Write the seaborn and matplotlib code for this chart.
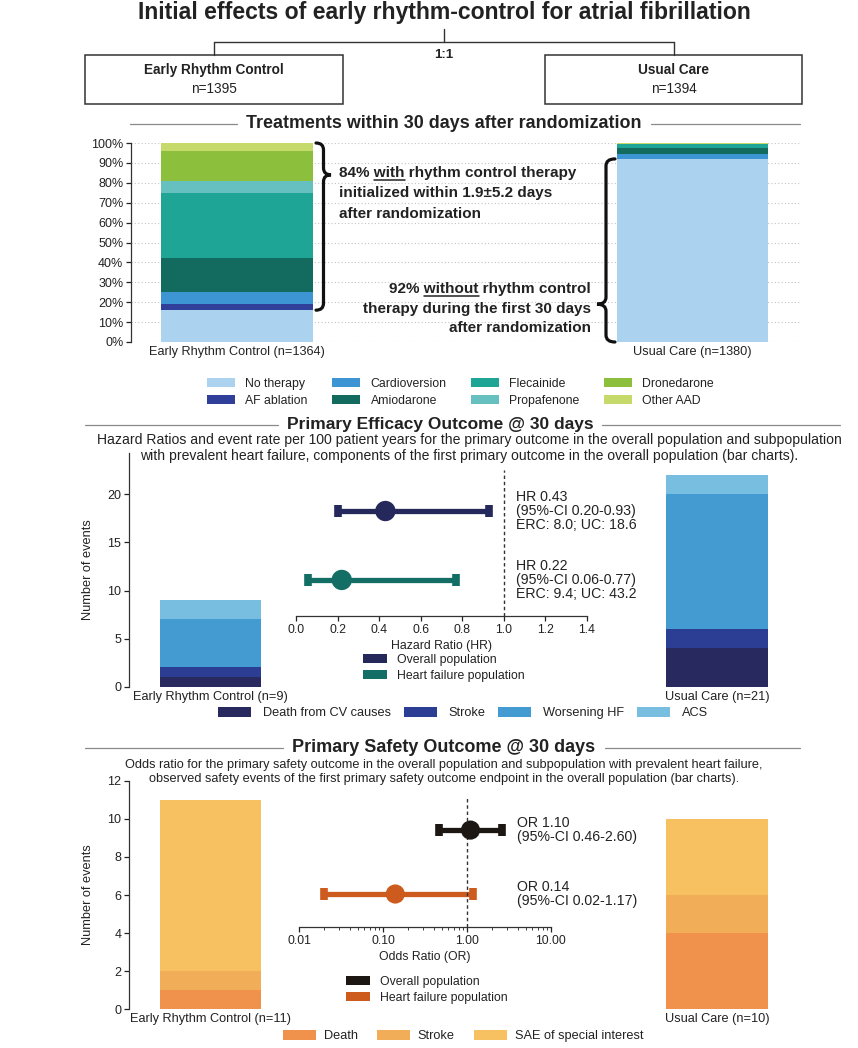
import numpy as np
import pandas as pd
import matplotlib
matplotlib.use("Agg")
import matplotlib.pyplot as plt
import matplotlib.transforms as mtransforms
from matplotlib.path import Path
from matplotlib.patches import PathPatch, Rectangle, Patch
from matplotlib.lines import Line2D
import seaborn as sns

sns.set_style("white")
plt.rcParams['font.family'] = ['Liberation Sans', 'DejaVu Sans']
plt.rcParams['text.color'] = '#222222'
plt.rcParams['axes.labelcolor'] = '#222222'
plt.rcParams['xtick.color'] = '#222222'
plt.rcParams['ytick.color'] = '#222222'
plt.rcParams['axes.edgecolor'] = '#333333'
NARROW = ['Liberation Sans Narrow', 'Liberation Sans', 'DejaVu Sans']

# ---- data
arms = ["Early Rhythm Control", "Usual Care"]
arms_n = [1395, 1394]

treat_n = [1364, 1380]
treat_cats = ["No therapy", "AF ablation", "Cardioversion", "Amiodarone",
              "Flecainide", "Propafenone", "Dronedarone", "Other AAD"]
treat_erc = [16, 3, 6, 17, 33, 6, 15, 4]
treat_uc = [92, 0, 2.6, 2.8, 2.2, 0, 0, 0.4]
treat_colors = ["#abd3ef", "#2f3f9a", "#3d95d3", "#136b5f",
                "#1fa596", "#66c0c0", "#8bbf3c", "#c6d96b"]

eff_n = [9, 21]
eff_cats = ["Death from CV causes", "Stroke", "Worsening HF", "ACS"]
eff_erc = [1, 1, 5, 2]
eff_uc = [4, 2, 14, 2]
eff_colors = ["#27295f", "#2c3e93", "#439bd2", "#77bee0"]

pops = ["Overall population", "Heart failure population"]
hr_est = [0.43, 0.22]
hr_lo = [0.20, 0.06]
hr_hi = [0.93, 0.77]
rate_erc = [8.0, 9.4]
rate_uc = [18.6, 43.2]
hr_colors = ["#24285a", "#136e65"]

saf_n = [11, 10]
saf_cats = ["Death", "Stroke", "SAE of special interest"]
saf_erc = [1, 1, 9]
saf_uc = [4, 2, 4]
saf_colors = ["#f0914c", "#f2ad58", "#f7c162"]

or_est = [1.10, 0.14]
or_lo = [0.46, 0.02]
or_hi = [2.60, 1.17]
or_colors = ["#1c1712", "#cc5b1d"]

# ---- figure + pixel helpers
W, H = 858, 1048
fig = plt.figure(figsize=(W / 100, H / 100), dpi=100)
renderer = fig.canvas.get_renderer()
px = mtransforms.Affine2D().scale(1 / W, -1 / H).translate(0, 1) + fig.transFigure


def rect(l, t, r, b):
    return [l / W, 1 - b / H, (r - l) / W, (b - t) / H]


def text_width(s, **kw):
    t = fig.text(0, 0, s, **kw)
    w = t.get_window_extent(renderer).width
    t.remove()
    return w


def fit_text(x, y, s, width, **kw):
    w = text_width(s, fontsize=10, **kw)
    return fig.text(x, y, s, transform=px, fontsize=10 * width / w, **kw)


def hline(x0, x1, y, **kw):
    fig.add_artist(Line2D([x0, x1], [y, y], transform=px, **kw))


def vline(x, y0, y1, **kw):
    fig.add_artist(Line2D([x, x], [y0, y1], transform=px, **kw))


def section(y, title, width, x0, x1, cx=444):
    t = fit_text(cx, y, title, width, ha='center', va='center',
                 fontweight='bold', family=NARROW)
    bb = t.get_window_extent(renderer)
    hline(x0, bb.x0 - 9, y, color='#8a8a8a', lw=0.9)
    hline(bb.x1 + 9, x1, y, color='#8a8a8a', lw=0.9)


def stacked_bars(ax, labels, cats, erc, uc, colors, width):
    # seaborn has no stacking: draw cumulative totals, tallest first
    table = pd.DataFrame([erc, uc], columns=cats, index=labels)
    cum = table.cumsum(axis=1)
    for cat, col in zip(cats[::-1], colors[::-1]):
        sns.barplot(x=cum.index, y=cum[cat], color=col, width=width,
                    saturation=1, linewidth=0, errorbar=None, ax=ax)
    ax.set_xlabel('')
    ax.set_ylabel('')


def style_bar_axes(ax):
    sns.despine(ax=ax, bottom=True)
    ax.spines['left'].set_linewidth(0.9)
    ax.tick_params(axis='y', left=True, length=3.5, width=0.9, labelsize=9, pad=2)
    ax.tick_params(axis='x', length=0, labelsize=9.2, pad=3)


def brace(ax, x_end, x_tip, y_top, y_bot, y_tip, r):
    xm = (x_end + x_tip) / 2
    verts = [(x_end, y_top), (xm, y_top), (xm, y_top - r),
             (xm, y_tip + r), (xm, y_tip), (x_tip, y_tip),
             (xm, y_tip), (xm, y_tip - r),
             (xm, y_bot + r), (xm, y_bot), (x_end, y_bot)]
    codes = [Path.MOVETO, Path.CURVE3, Path.CURVE3, Path.LINETO,
             Path.CURVE3, Path.CURVE3, Path.CURVE3, Path.CURVE3,
             Path.LINETO, Path.CURVE3, Path.CURVE3]
    tr = mtransforms.blended_transform_factory(px, ax.transData)
    fig.add_artist(PathPatch(Path(verts, codes), transform=tr, fill=False,
                             lw=2.3, ec='#111111', capstyle='round'))


def underlined_line(x, y, s, word, ha='left', size=11):
    kw = dict(fontsize=size, fontweight='bold')
    fig.text(x, y, s, transform=px, ha=ha, va='baseline', **kw)
    full = text_width(s, **kw)
    start = x if ha == 'left' else x - full
    pre = s[:s.index(word) + len(word)]
    x1 = start + text_width(pre, **kw)
    x0 = x1 - text_width(word, **kw)
    hline(x0, x1, y + 2.5, color='#222222', lw=1.1)


def legend(handles, anchor, loc, ncol, size, hl, hh, tp, cs, ls):
    fig.legend(handles=handles, loc=loc, bbox_to_anchor=(anchor[0] / W, 1 - anchor[1] / H),
               ncol=ncol, frameon=False, fontsize=size, handlelength=hl, handleheight=hh,
               handletextpad=tp, columnspacing=cs, labelspacing=ls,
               borderpad=0, borderaxespad=0)


def patches(labels, colors):
    return [Patch(facecolor=c, edgecolor='none', label=l) for l, c in zip(labels, colors)]


# ---- header
fit_text(444, 13, "Initial effects of early rhythm-control for atrial fibrillation", 614,
         ha='center', va='center', fontweight='bold', family=NARROW)
line_kw = dict(color='#333333', lw=1.0)
vline(444, 29, 42, **line_kw)
hline(214, 674, 42, **line_kw)
vline(214, 42, 55, **line_kw)
vline(674, 42, 55, **line_kw)
fig.text(444, 55, "1:1", transform=px, ha='center', va='center', fontsize=9.5, fontweight='bold')
for cx, l, r, arm, n in zip([214, 674], [85, 545], [343, 802], arms, arms_n):
    fig.add_artist(Rectangle((l, 55), r - l, 49, transform=px, fill=False, ec='#333333', lw=1.1))
    fig.text(cx, 70, arm, transform=px, ha='center', va='center', fontsize=9.8, fontweight='bold')
    fig.text(cx, 89, f"n={n}", transform=px, ha='center', va='center', fontsize=9.8)

# ---- treatments within 30 days
section(124, "Treatments within 30 days after randomization", 394, 130, 800)
ax1 = fig.add_axes(rect(131, 143, 800, 342))
stacked_bars(ax1, [f"{a} (n={n})" for a, n in zip(arms, treat_n)],
             treat_cats, treat_erc, treat_uc, treat_colors, 0.332)
ax1.set_xlim(-0.233, 1.237)
ax1.set_ylim(0, 100)
ax1.set_yticks(range(0, 101, 10), labels=[f"{v}%" for v in range(0, 101, 10)])
ax1.yaxis.grid(True, ls=(0, (1, 2)), color='#c4c4c4', lw=0.8)
ax1.set_axisbelow(True)
style_bar_axes(ax1)

brace(ax1, 316, 331, 100, treat_erc[0], 84, 3.5)
brace(ax1, 615, 597, treat_uc[0], 0, 19, 3.5)
underlined_line(339, 177.5, "84% with rhythm control therapy", "with")
fig.text(339, 197.5, "initialized within 1.9\u00b15.2 days", transform=px, va='baseline',
         fontsize=11, fontweight='bold')
fig.text(339, 217.5, "after randomization", transform=px, va='baseline',
         fontsize=11, fontweight='bold')
underlined_line(591, 293.5, "92% without rhythm control", "without", ha='right')
fig.text(591, 313.5, "therapy during the first 30 days", transform=px, ha='right',
         va='baseline', fontsize=11, fontweight='bold')
fig.text(591, 332.5, "after randomization", transform=px, ha='right', va='baseline',
         fontsize=11, fontweight='bold')

legend(patches(treat_cats, treat_colors), (207, 378), 'upper left', 4, 8.8,
       2.3, 0.8, 0.84, 2.0, 0.4)

# ---- primary efficacy outcome
section(425, "Primary Efficacy Outcome @ 30 days", 306, 85, 840, cx=440)
fit_text(469, 448, "Hazard Ratios and event rate per 100 patient years for the primary outcome "
         "in the overall population and subpopulation\nwith prevalent heart failure, components "
         "of the first primary outcome in the overall population (bar charts).", 742,
         ha='center', va='center', multialignment='center', linespacing=1.15)

ax2 = fig.add_axes(rect(129, 453, 800, 686.7))
stacked_bars(ax2, [f"{a} (n={n})" for a, n in zip(arms, eff_n)],
             eff_cats, eff_erc, eff_uc, eff_colors, 0.2)
ax2.set_xlim(-0.161, 1.164)
ax2.set_ylim(0, 24.3)
ax2.set_yticks(range(0, 21, 5))
style_bar_axes(ax2)
ax2.set_ylabel("Number of events", fontsize=9.2)
ax2.yaxis.set_label_coords(-0.052, 0.5)

axh = fig.add_axes(rect(296, 470, 587, 616))
axh.patch.set_alpha(0)
rows = np.arange(len(pops))[::-1]
for x, lo, hi, y, c in zip(hr_est, hr_lo, hr_hi, rows, hr_colors):
    axh.errorbar([x], [y], xerr=[[x - lo], [hi - x]], fmt='none', ecolor=c,
                 elinewidth=3.8, capsize=4.2, capthick=5.5)
sns.scatterplot(x=hr_est, y=rows, hue=pops, palette=hr_colors, s=215, legend=False,
                edgecolor='none', zorder=3, ax=axh)
axh.axvline(1.0, color='#333333', ls=(0, (2.5, 2)), lw=1)
axh.set_xlim(0, 1.4)
axh.set_ylim(-0.523, 1.595)
axh.set_xticks(np.arange(0, 1.41, 0.2), labels=[f"{v:.1f}" for v in np.arange(0, 1.41, 0.2)])
axh.set_yticks([])
sns.despine(ax=axh, left=True)
axh.spines['bottom'].set_linewidth(0.9)
axh.tick_params(axis='x', bottom=True, length=3.5, width=0.9, labelsize=8.8, pad=2)
axh.set_xlabel("Hazard Ratio (HR)", fontsize=8.8, labelpad=3)
tr_h = mtransforms.blended_transform_factory(axh.transAxes, axh.transData)
for x, lo, hi, e, u, y in zip(hr_est, hr_lo, hr_hi, rate_erc, rate_uc, rows):
    axh.text(0.756, y, f"HR {x:.2f}\n(95%-CI {lo:.2f}-{hi:.2f})\nERC: {e:.1f}; UC: {u:.1f}",
             transform=tr_h, va='center', ha='left', fontsize=10.2, linespacing=1.0)
legend(patches(pops, hr_colors), (363, 654), 'upper left', 1, 8.8, 2.0, 0.76, 0.75, 1, 0.32)
legend(patches(eff_cats, eff_colors), (463, 707), 'upper center', 4, 9.2, 2.6, 0.8, 0.9, 1.0, 0.3)

# ---- primary safety outcome
section(748, "Primary Safety Outcome @ 30 days", 302, 85, 800)
fit_text(444, 772, "Odds ratio for the primary safety outcome in the overall population and "
         "subpopulation with prevalent heart failure,\nobserved safety events of the first "
         "primary safety outcome endpoint in the overall population (bar charts).", 641,
         ha='center', va='center', multialignment='center', linespacing=1.15)

ax3 = fig.add_axes(rect(129, 780.7, 800, 1009.3))
stacked_bars(ax3, [f"{a} (n={n})" for a, n in zip(arms, saf_n)],
             saf_cats, saf_erc, saf_uc, saf_colors, 0.2)
ax3.set_xlim(-0.161, 1.164)
ax3.set_ylim(0, 12)
ax3.set_yticks(range(0, 13, 2))
style_bar_axes(ax3)
ax3.set_ylabel("Number of events", fontsize=9.2)
ax3.yaxis.set_label_coords(-0.052, 0.5)

axo = fig.add_axes(rect(299, 796, 551, 927))
axo.patch.set_alpha(0)
for x, lo, hi, y, c in zip(or_est, or_lo, or_hi, rows, or_colors):
    axo.errorbar([x], [y], xerr=[[x - lo], [hi - x]], fmt='none', ecolor=c,
                 elinewidth=3.8, capsize=4.2, capthick=5.5)
sns.scatterplot(x=or_est, y=rows, hue=pops, palette=or_colors, s=190, legend=False,
                edgecolor='none', zorder=3, ax=axo)
axo.axvline(1.0, color='#333333', ls=(0, (2.5, 2)), lw=1)
axo.set_xscale('log')
axo.set_xlim(0.01, 10)
axo.set_ylim(-0.516, 1.533)
axo.set_xticks([0.01, 0.1, 1, 10], labels=[f"{v:.2f}" for v in [0.01, 0.1, 1, 10]])
axo.set_yticks([])
sns.despine(ax=axo, left=True)
axo.spines['bottom'].set_linewidth(0.9)
axo.tick_params(axis='x', which='major', bottom=True, length=3.5, width=0.9, labelsize=8.8, pad=2)
axo.tick_params(axis='x', which='minor', bottom=True, length=2, width=0.6)
axo.set_xlabel("Odds Ratio (OR)", fontsize=8.8, labelpad=3)
tr_o = mtransforms.blended_transform_factory(axo.transAxes, axo.transData)
for x, lo, hi, y in zip(or_est, or_lo, or_hi, rows):
    axo.text(0.866, y, f"OR {x:.2f}\n(95%-CI {lo:.2f}-{hi:.2f})", transform=tr_o,
             va='center', ha='left', fontsize=10.2, linespacing=1.0)
legend(patches(pops, or_colors), (346, 976), 'upper left', 1, 8.8, 2.0, 0.76, 0.75, 1, 0.32)
legend(patches(saf_cats, saf_colors), (463, 1030), 'upper center', 3, 9.2, 2.6, 0.8, 0.6, 1.5, 0.3)

fig.savefig("out.png", dpi=100, facecolor='white')
